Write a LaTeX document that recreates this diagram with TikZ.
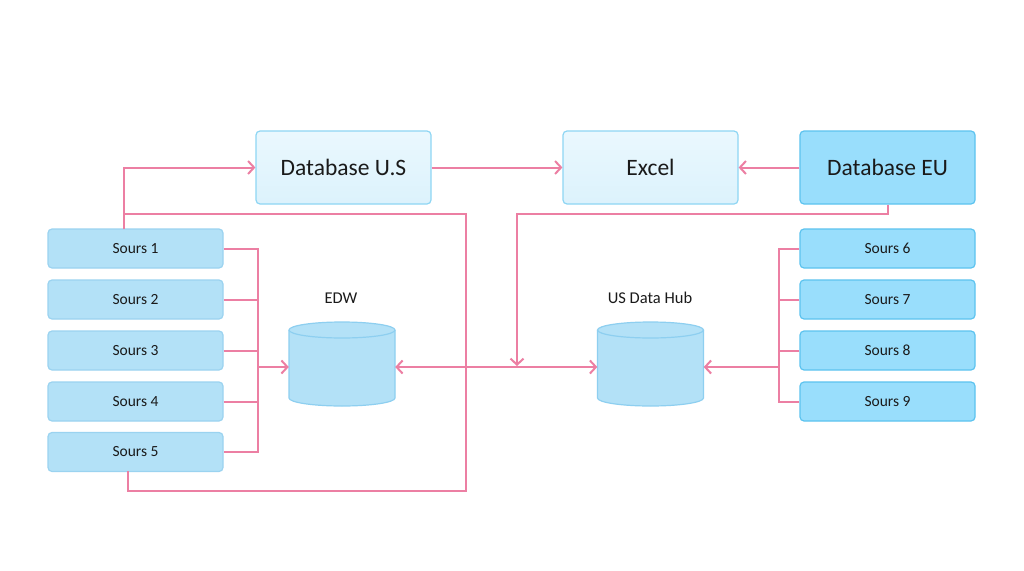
\documentclass[tikz,border=0pt]{standalone}
\usepackage{fontspec}
\setmainfont{Carlito}
\usetikzlibrary{arrows.meta}
\definecolor{pinkline}{HTML}{EC7FA3}
\definecolor{lightborder}{HTML}{8ED6F4}
\definecolor{lighttop}{HTML}{EAF8FE}
\definecolor{lightbot}{HTML}{DCF2FC}
\definecolor{darkfill}{HTML}{99DEFC}
\definecolor{darkborder}{HTML}{5CC3EF}
\definecolor{srcfill}{HTML}{B3E1F7}
\definecolor{srcborder}{HTML}{9BD3F0}
\definecolor{cylborder}{HTML}{8ECFF0}
\definecolor{txt}{HTML}{1A1A1A}
\tikzset{
  x=1pt, y=-1pt,
  bigbox/.style={draw=lightborder, line width=1.2pt, rounded corners=4pt, top color=lighttop, bottom color=lightbot, minimum width=175pt, minimum height=73pt, font=\fontsize{23.5}{26}\selectfont, text=txt, inner sep=0pt},
  eubox/.style={draw=darkborder, line width=1.2pt, rounded corners=4pt, fill=darkfill, minimum width=175pt, minimum height=73pt, font=\fontsize{23.5}{26}\selectfont, text=txt, inner sep=0pt},
  srcbox/.style={draw=srcborder, line width=1.2pt, rounded corners=4pt, fill=srcfill, minimum width=175pt, minimum height=39pt, font=\fontsize{15.5}{18}\selectfont, text=txt, inner sep=0pt},
  srcboxd/.style={draw=darkborder, line width=1.2pt, rounded corners=4pt, fill=darkfill, minimum width=175pt, minimum height=39pt, font=\fontsize{15.5}{18}\selectfont, text=txt, inner sep=0pt},
  cylbox/.style={minimum width=106pt, minimum height=84pt, inner sep=0pt},
  cylshape/.style={draw=cylborder, line width=1.2pt, fill=srcfill},
  lbl/.style={font=\fontsize{16.5}{19}\selectfont, text=txt, inner sep=0pt},
  conn/.style={draw=pinkline, line width=2pt},
  arr/.style={conn, -{Straight Barb[length=6pt,width=13pt,line width=2pt]}},
  darr/.style={conn, {Straight Barb[length=6pt,width=13pt,line width=2pt]}-{Straight Barb[length=6pt,width=13pt,line width=2pt]}},
}
\newcommand{\mycyl}[3]{% center x, top y, bottom y
  \fill[srcfill] (#1-53,#2) -- (#1-53,#3) arc[start angle=180,end angle=0,x radius=53,y radius=8] -- (#1+53,#2) arc[start angle=0,end angle=-180,x radius=53,y radius=8] -- cycle;
  \draw[cylborder, line width=1.2pt] (#1-53,#2) -- (#1-53,#3) arc[start angle=180,end angle=0,x radius=53,y radius=8] -- (#1+53,#2);
  \draw[cylborder, line width=1.2pt] (#1,#2) ellipse[x radius=53,y radius=8];
}
\begin{document}
\begin{tikzpicture}
\useasboundingbox (0,0) rectangle (1024,570);
\fill[white] (0,0) rectangle (1024,570);

% top boxes
\node[bigbox] (dbus) at (343.5,167.5) {Database U.S};
\node[bigbox] (excel) at (650.5,167.5) {Excel};
\node[eubox] (dbeu) at (887.5,167.5) {Database EU};

% left sources
\node[srcbox] (s1) at (135.5,248.5) {Sours 1};
\node[srcbox] (s2) at (135.5,299.5) {Sours 2};
\node[srcbox] (s3) at (135.5,350.5) {Sours 3};
\node[srcbox] (s4) at (135.5,401.5) {Sours 4};
\node[srcbox] (s5) at (135.5,452) {Sours 5};

% right sources
\node[srcboxd] (s6) at (887.5,248.5) {Sours 6};
\node[srcboxd] (s7) at (887.5,299.5) {Sours 7};
\node[srcboxd] (s8) at (887.5,350.5) {Sours 8};
\node[srcboxd] (s9) at (887.5,401.5) {Sours 9};

% cylinders
\mycyl{342}{330}{398}
\mycyl{650.5}{330}{398}
\node[cylbox] (edw) at (342,364) {};
\node[cylbox] (hub) at (650.5,364) {};
\node[lbl] (edwl) at (341,298) {EDW};
\node[lbl] (hubl) at (650,298) {US Data Hub};

% coordinates
\coordinate (lbus) at (258,367);
\coordinate (rbus) at (779,367);

% left bus
\draw[conn] (s1.east) -| (258,452) -- (s5.east);
\draw[conn] (s2.east) -- (258,299.5);
\draw[conn] (s3.east) -- (258,350.5);
\draw[conn] (s4.east) -- (258,401.5);
\draw[arr] (lbus) -- (edw.west |- lbus);

% right bus
\draw[conn] (s6.west) -| (779,401.5) -- (s9.west);
\draw[conn] (s7.west) -- (779,299.5);
\draw[conn] (s8.west) -- (779,350.5);
\draw[arr] (rbus) -- (hub.east |- rbus);

% loop from sources to Database U.S
\draw[arr] (124,229) |- (dbus.west);
\draw[conn] (128,471) |- (466,491) -- (466,214) -- (124,214);

% top arrows
\draw[arr] (dbus.east) -- (excel.west);
\draw[arr] (dbeu.west) -- (excel.east);

% Database EU down
\draw[arr] (dbeu.south) |- (517,214) -- (517,366);

% EDW <-> Hub
\draw[darr] (edw.east |- lbus) -- (hub.west |- lbus);
\end{tikzpicture}
\end{document}
